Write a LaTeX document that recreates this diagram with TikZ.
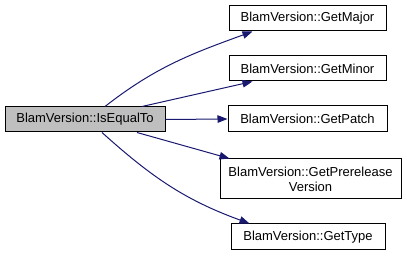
\documentclass[tikz,border=0pt]{standalone}
\usepackage{fontspec}
\setmainfont{Liberation Sans}
\usetikzlibrary{arrows.meta}
\definecolor{edgeblue}{HTML}{191970}
\definecolor{boxgray}{HTML}{BFBFBF}
\begin{document}
\begin{tikzpicture}[
			x=1pt, y=1pt,
			box/.style={rectangle, draw=black, line width=1pt, fill=white, inner sep=0pt, align=center, font=\fontsize{13}{15}\selectfont},
			arrow/.style={edgeblue, line width=1pt, -{Triangle[length=10pt,width=7.5pt]}}
		]
		\useasboundingbox (0,0) rectangle (407,-256);
		% Nodes
		\node[box, fill=boxgray, minimum width=160pt, minimum height=25pt] (isequal) at (85,-119.5) {BlamVersion::IsEqualTo};
		\node[box, minimum width=157pt, minimum height=25pt] (major) at (307.5,-18.5) {BlamVersion::GetMajor};
		\node[box, minimum width=157pt, minimum height=25pt] (minor) at (307.5,-68.5) {BlamVersion::GetMinor};
		\node[box, minimum width=159pt, minimum height=26pt] (patch) at (307.5,-119) {BlamVersion::GetPatch};
		\node[box, minimum width=181pt, minimum height=40pt] (prerelease) at (310.5,-179) {BlamVersion::GetPrerelease\\Version};
		\node[box, minimum width=154pt, minimum height=26pt] (type) at (308,-237) {BlamVersion::GetType};

		% Arrows
		\draw[arrow] ([xshift=20pt]isequal.north) to[out=38, in=200] ([xshift=24pt]major.south west);
		\draw[arrow] ([xshift=57pt]isequal.north) -- ([xshift=24pt]minor.south west);
		\draw[arrow] (isequal.east) -- (patch.west);
		\draw[arrow] ([xshift=52pt]isequal.south) -- ([xshift=10pt]prerelease.north west);
		\draw[arrow] ([xshift=17pt]isequal.south) to[out=-42, in=160] ([xshift=19pt]type.north west);
	\end{tikzpicture}
\end{document}
